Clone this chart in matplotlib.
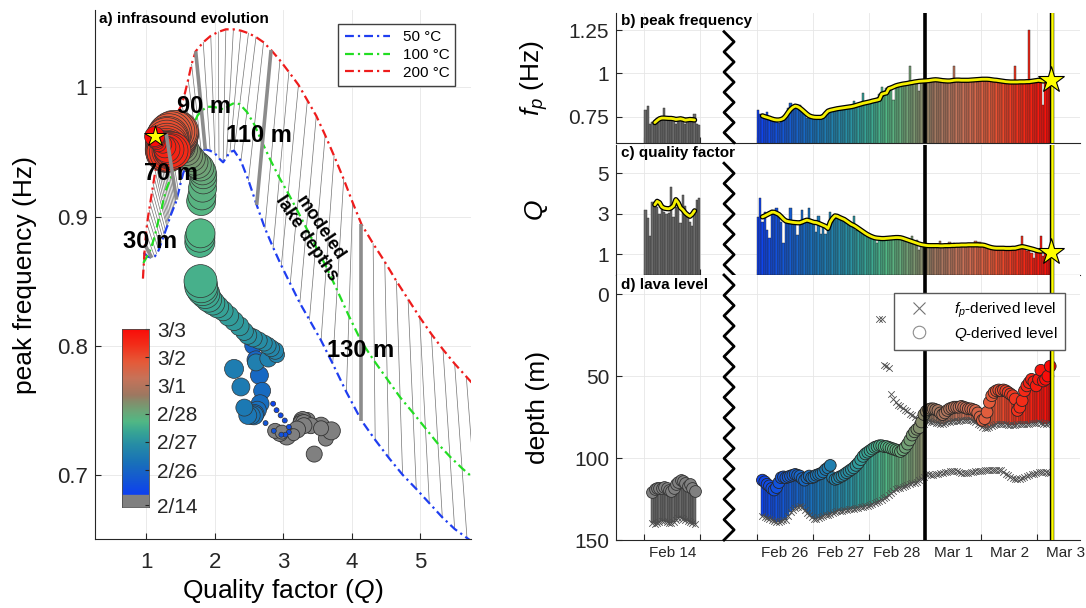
import numpy as np
import matplotlib
matplotlib.use("Agg")
import matplotlib.pyplot as plt
import matplotlib.transforms as mtrans
from matplotlib.colors import LinearSegmentedColormap
from matplotlib.lines import Line2D

plt.rcParams["font.family"] = ["Liberation Sans", "DejaVu Sans"]
plt.rcParams["mathtext.fontset"] = "custom"
plt.rcParams["mathtext.rm"] = "Liberation Sans"
plt.rcParams["mathtext.it"] = "Liberation Sans:italic"
plt.rcParams["axes.edgecolor"] = "0.15"
plt.rcParams["xtick.color"] = "0.15"
plt.rcParams["ytick.color"] = "0.15"

nan = np.nan

# ---------------------------------------------------------------- panel a data
# modelled (Q, fp) for lake depths 26..150 m, every 2 m
depth_m = list(range(26, 151, 2))
label_depths = [30, 70, 90, 110, 130]

red_q = [0.95, 0.965, 0.98, 0.995, 1.01, 1.025, 1.04, 1.055, 1.07, 1.085,
         1.10, 1.115, 1.13, 1.145, 1.16, 1.175, 1.19, 1.205, 1.22, 1.235,
         1.25, 1.27, 1.29, 1.32, 1.36, 1.40, 1.44, 1.48, 1.52, 1.56,
         1.61, 1.66, 1.72, 1.83, 1.94, 2.05, 2.16, 2.27, 2.38, 2.49,
         2.60, 2.71, 2.82, 2.95, 3.08, 3.22, 3.35, 3.48, 3.61, 3.74,
         3.88, 4.01, 4.14, 4.31, 4.48, 4.65, 4.82, 4.99, 5.16, 5.33,
         5.50, 5.67, 5.84]
red_fp = [0.852, 0.866, 0.878, 0.887, 0.894, 0.900, 0.905, 0.910, 0.915, 0.920,
          0.925, 0.930, 0.935, 0.939, 0.943, 0.947, 0.950, 0.953, 0.956, 0.958,
          0.960, 0.962, 0.964, 0.967, 0.971, 0.975, 0.979, 0.983, 0.987, 0.995,
          1.006, 1.018, 1.028, 1.035, 1.040, 1.043, 1.045, 1.045, 1.044, 1.042,
          1.039, 1.035, 1.029, 1.021, 1.012, 1.002, 0.990, 0.978, 0.963, 0.947,
          0.929, 0.911, 0.894, 0.879, 0.865, 0.850, 0.836, 0.822, 0.809, 0.797,
          0.786, 0.776, 0.766]
grn_q = [0.956, 0.998, 1.04, 1.07, 1.094, 1.118, 1.136, 1.154, 1.172, 1.19,
         1.208, 1.226, 1.238, 1.25, 1.262, 1.274, 1.289, 1.304, 1.319, 1.334,
         1.349, 1.366, 1.38, 1.41, 1.444, 1.484, 1.524, 1.564, 1.604, 1.644,
         1.694, 1.744, 1.804, 1.89, 1.976, 2.056, 2.136, 2.21, 2.284, 2.364,
         2.468, 2.578, 2.694, 2.818, 2.942, 3.07, 3.20, 3.336, 3.472, 3.626,
         3.784, 3.956, 4.14, 4.328, 4.516, 4.704, 4.892, 5.074, 5.256, 5.432,
         5.608, 5.784, 5.96]
grn_fp = [0.864, 0.868, 0.872, 0.876, 0.880, 0.884, 0.888, 0.892, 0.896, 0.900,
          0.903, 0.907, 0.910, 0.913, 0.915, 0.918, 0.921, 0.923, 0.925, 0.927,
          0.929, 0.931, 0.933, 0.938, 0.944, 0.950, 0.955, 0.959, 0.962, 0.967,
          0.972, 0.978, 0.982, 0.985, 0.985, 0.984, 0.983, 0.986, 0.988, 0.987,
          0.981, 0.971, 0.957, 0.943, 0.930, 0.918, 0.905, 0.891, 0.877, 0.861,
          0.843, 0.823, 0.803, 0.788, 0.774, 0.760, 0.748, 0.736, 0.724, 0.714,
          0.705, 0.697, 0.688]
blu_q = [0.96, 1.02, 1.08, 1.12, 1.15, 1.18, 1.20, 1.22, 1.24, 1.26,
         1.28, 1.30, 1.31, 1.32, 1.33, 1.34, 1.355, 1.37, 1.385, 1.40,
         1.415, 1.43, 1.44, 1.47, 1.50, 1.54, 1.58, 1.62, 1.66, 1.70,
         1.75, 1.80, 1.86, 1.93, 2.00, 2.06, 2.12, 2.17, 2.22, 2.28,
         2.38, 2.49, 2.61, 2.73, 2.85, 2.97, 3.10, 3.24, 3.38, 3.55,
         3.72, 3.92, 4.14, 4.34, 4.54, 4.74, 4.94, 5.13, 5.32, 5.50,
         5.68, 5.86, 6.04]
blu_fp = [0.872, 0.869, 0.868, 0.869, 0.871, 0.874, 0.877, 0.880, 0.883, 0.886,
          0.889, 0.892, 0.893, 0.895, 0.897, 0.899, 0.901, 0.903, 0.905, 0.907,
          0.909, 0.911, 0.913, 0.919, 0.926, 0.934, 0.939, 0.943, 0.946, 0.948,
          0.950, 0.951, 0.952, 0.951, 0.949, 0.945, 0.942, 0.946, 0.950, 0.951,
          0.943, 0.928, 0.909, 0.891, 0.876, 0.862, 0.848, 0.833, 0.820, 0.804,
          0.786, 0.764, 0.742, 0.727, 0.713, 0.700, 0.689, 0.678, 0.667, 0.658,
          0.651, 0.644, 0.637]

# ---------------------------------------------------------------- hourly series
# Feb 14 (24 hours) and Feb 26 00:00 -> Mar 2 ~06:00 (126 hours)
fp_raw_14 = [0.79, 0.81, 0.71, 0.72, 0.73, 0.74, 0.745, 0.74, 0.80, 0.745,
             0.74, 0.74, 0.735, 0.71, 0.74, 0.745, 0.725, 0.71, 0.74, 0.73,
             0.735, 0.765, 0.705, 0.70]
fp_smooth_14 = [nan, nan, nan, nan, 0.716, 0.728, 0.738, 0.742, 0.742, 0.741,
                0.740, 0.740, 0.738, 0.734, 0.736, 0.738, 0.735, 0.730, 0.732, 0.734,
                0.733, 0.731, nan, nan]
q_raw_14 = [3.2, 2.8, 1.9, 3.6, 3.6, 3.35, 3.0, 3.45, 3.1, 3.0,
            3.05, 4.35, 2.85, 3.35, 3.7, 2.55, 3.95, 3.4, 2.85, 2.6,
            2.4, 3.0, 3.7, 3.8]
q_smooth_14 = [nan, nan, nan, nan, 3.45, 3.62, 3.55, 3.35, 3.28, 3.26,
               3.25, 3.30, 3.40, 3.70, 3.55, 3.30, 3.20, 3.05, 2.95, 2.88,
               2.98, 3.15, nan, nan]
level_q_14 = [nan, nan, nan, 120.5, 119, 118, 118.5, 118, 117.5, 118.5,
              119.5, 120, 118, 116, 114.5, 113.5, 114, 115.5, 117, 116,
              118, 120, nan, nan]
level_fp_14 = [nan, nan, nan, 139.5, 140, 139.5, 139, 138.5, 138.5, 139,
               139.5, 139.5, 139, 137.5, 136.5, 136.5, 137, 138, 138.5, 139,
               139.5, 140, nan, nan]
amp_14 = [nan, nan, nan, nan, 16, 15, 17, 16, 18, 16,
          15, 17, 16, 18, 15, 16, 17, 18, 16, 15,
          14, 12, nan, nan]

fp_raw = [0.790, 0.765, 0.755, 0.745, 0.778, 0.745, 0.735, 0.735, 0.728, 0.715,
          0.735, 0.745, 0.765, 0.800, 0.830, 0.812, 0.820, 0.800, 0.815, 0.775,
          0.770, 0.745, 0.760, 0.748, 0.735, 0.750, 0.748, 0.742, 0.760, 0.770,
          0.785, 0.792, 0.790, 0.795, 0.800, 0.797, 0.802, 0.805, 0.800, 0.810,
          0.812, 0.840, 0.815, 0.822, 0.825, 0.885, 0.832, 0.838, 0.840, 0.845,
          0.850, 0.855, 0.880, 0.920, 0.900, 0.918, 0.915, 0.925, 0.845, 0.930,
          0.935, 0.938, 0.945, 0.940, 0.945, 1.040, 0.948, 0.950, 0.955, 0.900,
          0.958, 0.950, 0.958, 0.962, 0.960, 0.965, 0.968, 0.965, 0.960, 0.955,
          0.958, 0.955, 0.952, 0.960, 1.040, 0.962, 0.960, 0.962, 0.958, 0.960,
          0.962, 0.960, 0.963, 0.965, 0.962, 0.966, 0.968, 0.965, 0.966, 0.964,
          0.960, 0.962, 0.958, 0.955, 0.957, 0.953, 0.950, 0.948, 0.950, 0.948,
          1.040, 0.950, 0.948, 0.952, 0.950, 0.952, 1.250, 0.955, 0.955, 0.958,
          0.960, 0.955, 0.820, 0.950, 0.960, 0.962]
fp_smooth = [nan, nan,
             0.755, 0.750, 0.746, 0.742, 0.737, 0.733, 0.731, 0.731, 0.734, 0.740,
             0.755, 0.775, 0.792, 0.804, 0.811, 0.808, 0.800, 0.789, 0.777, 0.765,
             0.755, 0.750, 0.747, 0.746, 0.746, 0.746, 0.752, 0.768, 0.782, 0.787,
             0.790, 0.793, 0.796, 0.798, 0.800, 0.802, 0.804, 0.806, 0.808, 0.811,
             0.815, 0.819, 0.823, 0.827, 0.830, 0.833, 0.836, 0.840, 0.843, 0.846,
             0.850, 0.880, 0.884, 0.887, 0.912, 0.916, 0.922, 0.928, 0.932, 0.935,
             0.938, 0.940, 0.942, 0.945, 0.947, 0.950, 0.952, 0.954, 0.955, 0.956,
             0.957, 0.958, 0.960, 0.962, 0.963, 0.962, 0.960, 0.958, 0.957, 0.956,
             0.956, 0.958, 0.960, 0.961, 0.961, 0.960, 0.960, 0.960, 0.960, 0.961,
             0.962, 0.963, 0.964, 0.965, 0.966, 0.966, 0.966, 0.965, 0.963, 0.961,
             0.960, 0.958, 0.956, 0.954, 0.952, 0.951, 0.950, 0.950, 0.950, 0.950,
             0.951, 0.951, 0.951, 0.952, 0.952, 0.954, 0.956, 0.958, 0.960, 0.958,
             0.956, 0.958, 0.960, 0.962]
q_raw = [2.86, 3.77, 2.60, 3.10, 2.20, 1.80, 3.20, 3.05, 3.30, 3.00,
         2.60, 1.55, 2.70, 2.55, 3.30, 2.65, 2.50, 1.95, 2.60, 3.20,
         2.60, 2.65, 3.30, 2.55, 2.60, 2.10, 2.90, 2.00, 2.45, 2.00,
         2.30, 3.10, 2.85, 2.80, 2.90, 2.75, 2.70, 2.65, 2.60, 2.50,
         2.40, 2.90, 2.20, 2.25, 2.15, 2.10, 2.02, 1.98, 1.95, 1.90,
         1.86, 1.55, 1.85, 1.86, 1.88, 1.85, 1.86, 1.88, 1.90, 1.88,
         1.92, 1.86, 1.80, 1.75, 1.70, 1.65, 1.92, 1.58, 1.70, 1.21,
         1.46, 1.45, 1.43, 1.42, 1.43, 1.42, 1.43, 1.42, 1.66, 1.42,
         1.43, 1.42, 1.60, 1.44, 1.58, 1.45, 1.44, 1.46, 1.45, 1.46,
         1.47, 1.46, 1.47, 1.66, 1.62, 1.60, 1.46, 1.45, 1.40, 1.36,
         1.33, 1.31, 1.30, 1.28, 1.30, 1.29, 1.30, 1.29, 1.28, 1.30,
         1.31, 1.34, 1.36, 1.92, 1.38, 1.16, 1.30, 1.05, 0.80, 1.20,
         1.15, 1.92, 0.90, 1.15, 1.12, 1.10]
q_smooth = [nan, nan,
            2.85, 2.90, 2.96, 3.02, 3.08, 3.08, 3.03, 2.97, 2.86, 2.74,
            2.65, 2.62, 2.60, 2.58, 2.57, 2.56, 2.56, 2.60, 2.65, 2.69,
            2.66, 2.62, 2.58, 2.57, 2.53, 2.48, 2.43, 2.38, 2.28, 2.60,
            2.78, 2.90, 2.88, 2.82, 2.77, 2.72, 2.64, 2.56, 2.48, 2.43,
            2.36, 2.28, 2.20, 2.12, 2.04, 1.97, 1.91, 1.86, 1.82, 1.80,
            1.79, 1.78, 1.78, 1.79, 1.80, 1.81, 1.82, 1.83, 1.83, 1.82,
            1.79, 1.75, 1.71, 1.67, 1.63, 1.59, 1.55, 1.51, 1.48, 1.46,
            1.44, 1.43, 1.43, 1.43, 1.43, 1.43, 1.42, 1.42, 1.43, 1.43,
            1.43, 1.44, 1.44, 1.45, 1.45, 1.46, 1.46, 1.46, 1.47, 1.47,
            1.47, 1.47, 1.47, 1.46, 1.46, 1.44, 1.40, 1.36, 1.33, 1.31,
            1.30, 1.30, 1.30, 1.30, 1.29, 1.29, 1.29, 1.30, 1.30, 1.33,
            1.36, 1.38, 1.36, 1.33, 1.30, 1.27, 1.24, 1.20, 1.17, 1.16,
            1.18, 1.15, 1.13, 1.12]
# lava level (m below rim): Q-derived, fp-derived (branch used for stems), other fp branch
level_q = [nan, nan,
           113.5, 114.5, 116, 117, 118.5, 119.5, 118, 115, 112, 111.5,
           112, 111.5, 111, 110.5, 110, 110.5, 111, 112.5, 113.5, 112,
           111, 112, 111.5, 110.5, 110, 109.5, 108.5, 107, 106, 104.5,
           112, 113, 112.5, 111.5, 111, 110, 109, 108, 107, 106,
           104.5, 103, 101, 99, 97.5, 96.5, 95.5, 94.5, 93.5, 93,
           92.5, 92.5, 93, 93, 93.5, 94, 94.5, 95, 95.5, 96,
           95, 93.5, 91.5, 89, 86, 84, 82.5, 81.5, 78, 73.5,
           71.5, 70.5, 70, 70, 70.5, 71, 72.5, 73.5, 72.5, 71,
           70, 69.5, 69, 69, 69, 68.5, 69, 69.5, 70, 70,
           70.5, 71, 72.5, 75, 77, 76, 72, 66, 62, 60,
           59, 58.5, 59, 58.5, 59, 60, 61, 62, 64, 71,
           69, 65, 59, 56, 54, 52, 53.5, 56, 52, 46.5,
           53, 52, 50, 44]
level_fp = [nan, nan,
            135.5, 136, 136.5, 137, 138, 138.5, 139, 139, 138.5, 138,
            137.5, 135.5, 133, 131.5, 130.5, 130, 129.5, 130, 131.5, 133.5,
            135, 136, 137, 137, 136.5, 136, 135.5, 135, 134.5, 134,
            133.5, 133, 132.5, 132, 132, 131.5, 131.5, 131, 131, 131,
            130.5, 130.5, 130, 130, 129.5, 129, 128.5, 128, 127.5, 127,
            126.5, 125.5, 124.5, 123.5, 122.5, 121.5, 120, 119, 118.5, 118,
            117.5, 117, 116.5, 116, 115.5, 115, 114.5, 113.5, 112.5, 111.5,
            77, 77.5, 78, 78, 78.5, 78.5, 79, 79, 78.5, 78,
            78, 77.5, 77.5, 77.5, 77.5, 77, 77, 77, 77, 77,
            77.5, 78, 79, 80, 81, 81.5, 81.5, 81, 80.5, 80,
            79.5, 79, 79, 79, 79.5, 80, 80, 80, 80, 79.5,
            79.5, 79, 79, 79, 79, 78.5, 78.5, 78.5, 78, 78.5,
            79, 79, 78.5, 78.5]
level_fp_alt = [nan] * 52 + [
    15, 15, 43, 44, 45, 61, 64, 66, 67.5, 68.5,
    69.5, 70.5, 71.5, 73, 74, 75, 76, 77, 78, 79,
    109.5, 110, 110.5, 110.5, 110, 109.5, 109, 109, 108.5, 108.5,
    108, 108, 108, 108, 108.5, 109, 109, 109, 109, 108.5,
    108.5, 108, 108, 108, 108, 107.5, 107.5, 107.5, 107, 107,
    107, 107, 107.5, 108.5, 109.5, 110.5, 111.5, 112, 112.5, 112.5,
    112.5, 112, 111.5, 111, 110.5, 110, 109.5, 109, 108.5, 108.5,
    108.5, 108.5, 109, 109]
amp = [nan, nan,
       5, 5, 5, 5, 5, 5, 5, 5, 5, 5,
       6, 6, 5, 5, 5, 6, 17, 18, 18, 17,
       18, 18, 19, 19, 18, 18, 17, 18, 19, 17,
       17, 16, 17, 17, 17, 16, 17, 18, 18, 18,
       19, 19, 20, 20, 22, 24, 26, 29, 31, 33,
       33, 30, 30, 29, 29, 28, 28, 27, 27, 27,
       27, 27, 26, 26, 26, 27, 27, 28, 28, 30,
       32, 33, 34, 34, 35, 35, 36, 36, 36, 37,
       37, 37, 37, 38, 38, 38, 38, 38, 38, 38,
       39, 39, 40, 40, 41, 41, 42, 42, 43, 43,
       43, 43, 42, 42, 42, 41, 41, 40, 40, 39,
       38, 37, 34, 30, 26, 22, 18, 15, 14, 14,
       15, 16, 18, 20]

for series in (fp_raw, fp_smooth, q_raw, q_smooth, level_q, level_fp, level_fp_alt, amp):
    assert len(series) == 126, len(series)

# time axis: compressed, one unit per day; Feb 14 in slot 0, Feb 26.. from slot 2
tick_dates = ["Feb 14", "Feb 26", "Feb 27", "Feb 28", "Mar 1", "Mar 2", "Mar 3"]
date_slot = [0, 2, 3, 4, 5, 6, 7]
mar1_slot = 5.0
last_obs = 7.255

cbar_labels = ["2/14", "2/26", "2/27", "2/28", "3/1", "3/2", "3/3"]

cmap_pos = [0.0, 0.10, 0.20, 0.30, 0.38, 0.44, 0.50, 0.56, 0.60, 0.70, 0.80, 0.90, 1.0]
cmap_rgb = [(0.05, 0.25, 0.95), (0.08, 0.35, 0.82), (0.10, 0.45, 0.72), (0.15, 0.55, 0.65),
            (0.22, 0.65, 0.58), (0.32, 0.72, 0.52), (0.42, 0.65, 0.47), (0.52, 0.55, 0.42),
            (0.62, 0.47, 0.38), (0.78, 0.45, 0.35), (0.90, 0.35, 0.22), (0.95, 0.18, 0.10),
            (0.98, 0.04, 0.03)]
cmap = LinearSegmentedColormap.from_list("lake", list(zip(cmap_pos, cmap_rgb)))

# ---------------------------------------------------------------- derived arrays
hours_14 = np.arange(24)
hours = np.arange(126)
x14 = (hours_14 + 0.5) / 24.0
xm = 2 + (hours + 0.5) / 24.0
col_main = cmap(hours / 125.0)
GRAY = "0.42"

fp_raw, fp_smooth, q_raw, q_smooth = map(np.array, (fp_raw, fp_smooth, q_raw, q_smooth))
level_q, level_fp, level_fp_alt, amp = map(np.array, (level_q, level_fp, level_fp_alt, amp))
fp_raw_14, fp_smooth_14, q_raw_14, q_smooth_14 = map(np.array, (fp_raw_14, fp_smooth_14, q_raw_14, q_smooth_14))
level_q_14, level_fp_14, amp_14 = map(np.array, (level_q_14, level_fp_14, amp_14))

fig = plt.figure(figsize=(10.86, 6.08), dpi=100)
DASH = (4, 1.8, 1, 1.8)

# ================================================================ panel a
ax = fig.add_axes([0.0871, 0.1130, 0.3470, 0.8706])
for k, d in enumerate(depth_m):
    if d in label_depths:
        ax.plot([red_q[k], blu_q[k]], [red_fp[k], blu_fp[k]], color="0.55", lw=2.6,
                zorder=4, solid_capstyle="butt")
    else:
        ax.plot([red_q[k], blu_q[k]], [red_fp[k], blu_fp[k]], color="0.45", lw=0.5, zorder=1)
ax.plot(blu_q, blu_fp, color="#1f3ef0", lw=1.6, dashes=DASH, label="50 °C", zorder=2)
ax.plot(grn_q, grn_fp, color="#22dd22", lw=1.6, dashes=DASH, label="100 °C", zorder=2)
ax.plot(red_q, red_fp, color="#ee1c1c", lw=1.6, dashes=DASH, label="200 °C", zorder=2)

ok14 = ~np.isnan(q_smooth_14)
ax.scatter(q_smooth_14[ok14], fp_smooth_14[ok14], s=(amp_14[ok14] * 0.72) ** 2,
           color="0.5", edgecolors="0.2", linewidths=0.6, zorder=3)
ok = ~np.isnan(q_smooth)
ax.scatter(q_smooth[ok], fp_smooth[ok], s=(amp[ok] * 0.72) ** 2, color=col_main[ok],
           edgecolors="0.2", linewidths=0.5, zorder=3)
ax.plot(q_smooth[-1], fp_smooth[-1], marker="*", ms=16, mfc="#ffff00", mec="k", mew=0.7, zorder=6)

lbl = dict(fontsize=17, fontweight="bold", ha="center", va="center", zorder=7)
ax.text(1.05, 0.881, "30 m", **lbl)
ax.text(1.365, 0.933, "70 m", **lbl)
ax.text(1.835, 0.985, "90 m", **lbl)
ax.text(2.64, 0.963, "110 m", **lbl)
ax.text(4.13, 0.796, "130 m", **lbl)
ax.text(3.44, 0.887, "modeled\nlake depths", fontsize=13, fontweight="bold", rotation=-56,
        ha="center", va="center", linespacing=1.0, zorder=7)
ax.text(0.012, 0.996, "a) infrasound evolution", transform=ax.transAxes, fontsize=11,
        fontweight="bold", va="top", ha="left")

ax.set_xlim(0.244, 5.745)
ax.set_ylim(0.650, 1.060)
ax.set_xticks([1, 2, 3, 4, 5])
ax.set_yticks([0.7, 0.8, 0.9, 1.0])
ax.set_yticklabels(["0.7", "0.8", "0.9", "1"])
ax.tick_params(direction="in", length=4, labelsize=16, top=False, right=False)
ax.tick_params(axis="x", pad=9)
ax.tick_params(axis="y", pad=5)
ax.grid(True, color="0.9", lw=0.6)
ax.set_axisbelow(True)
for s in ("top", "right"):
    ax.spines[s].set_visible(False)
ax.set_xlabel("Quality factor ($Q$)", fontsize=19)
ax.set_ylabel("peak frequency (Hz)", fontsize=19)
ax.xaxis.set_label_coords(0.5, -0.072)
ax.yaxis.set_label_coords(-0.152, 0.5)
ax.legend(loc="upper right", bbox_to_anchor=(0.9575, 0.9735), fontsize=11, handlelength=3.0,
          fancybox=False, edgecolor="0.25", framealpha=1, borderpad=0.4, labelspacing=0.25,
          borderaxespad=0)

# colour bar (inset)
cax = fig.add_axes([122 / 1086, 1 - 507 / 608, 27 / 1086, 178 / 608])
grad = np.linspace(0, 1, 256).reshape(-1, 1)
cax.imshow(grad, cmap=cmap, origin="lower", aspect="auto", extent=[0, 1, -0.887, 5])
cax.axhspan(-1.31, -0.887, color="0.5")
cax.set_xlim(0, 1)
cax.set_ylim(-1.31, 5)
cax.set_xticks([])
cax.yaxis.tick_right()
cax.set_yticks([-1.24, 0, 1, 2, 3, 4, 5])
cax.set_yticklabels(cbar_labels)
cax.tick_params(axis="y", direction="in", length=3, labelsize=15, pad=6)
for s in cax.spines.values():
    s.set_color("0.3")
    s.set_linewidth(0.6)

# ================================================================ panels b-d
ax_b = fig.add_axes([0.5672, 0.7653, 0.4273, 0.2133])
ax_c = fig.add_axes([0.5672, 0.5477, 0.4273, 0.2138])
ax_d = fig.add_axes([0.5672, 0.1118, 0.4273, 0.4359])
W = 1 / 24.0


def time_axis(a, labels):
    a.set_xlim(-0.504, 7.76)
    a.set_xticks(range(8))
    a.set_xticks([p + 0.5 for p in date_slot], minor=True)
    a.set_xticklabels([])
    a.set_xticklabels(tick_dates if labels else [""] * len(tick_dates), minor=True)
    a.tick_params(axis="x", which="major", direction="in", length=4, labelbottom=False)
    a.tick_params(axis="x", which="minor", length=0, labelsize=11, pad=4)
    a.tick_params(axis="y", direction="in", length=4, labelsize=15, pad=5, right=False)
    a.grid(True, which="major", color="0.9", lw=0.6)
    a.set_axisbelow(True)
    for s in ("top", "right"):
        a.spines[s].set_visible(False)
    a.yaxis.set_label_coords(-0.142, 0.5)


def zigzag(a, y_top, h_px):
    tr = mtrans.blended_transform_factory(a.transData, a.transAxes)
    n = int(round(y_top * h_px / 10.0))
    ys = np.linspace(y_top, 0, n + 1)
    xs = [1.42 if k % 2 == 0 else 1.60 for k in range(n + 1)]
    a.plot(xs, ys, transform=tr, color="k", lw=2, clip_on=False, zorder=5)


def event_lines(a):
    a.axvline(mar1_slot, color="k", lw=2.6, zorder=4)
    a.axvline(last_obs, color="k", lw=3.2, zorder=4)
    a.axvline(last_obs, color="#ffff00", lw=1.8, zorder=4)


def smooth_line(a, x, y):
    a.plot(x, y, color="k", lw=3.8, zorder=5, solid_capstyle="round")
    a.plot(x, y, color="#f5f000", lw=2.0, zorder=5, solid_capstyle="round")


# b) peak frequency
ax_b.bar(x14, fp_raw_14, width=W, color=GRAY, edgecolor="0.15", linewidth=0.3)
ax_b.bar(xm, fp_raw, width=W, color=col_main, edgecolor="0.15", linewidth=0.3)
smooth_line(ax_b, x14, fp_smooth_14)
smooth_line(ax_b, xm, fp_smooth)
event_lines(ax_b)
ax_b.plot(xm[-1] + 0.01, fp_smooth[-1], marker="*", ms=20, mfc="#ffff00", mec="k", mew=0.8, zorder=6)
ax_b.set_ylim(0.60, 1.348)
ax_b.set_yticks([0.75, 1.0, 1.25])
ax_b.set_yticklabels(["0.75", "1", "1.25"])
time_axis(ax_b, False)
zigzag(ax_b, 0.856, 129.7)
ax_b.set_ylabel("$f_p$ (Hz)", fontsize=19)
ax_b.text(0.01, 0.99, "b) peak frequency", transform=ax_b.transAxes, fontsize=11,
          fontweight="bold", va="top")

# c) quality factor
ax_c.bar(x14, q_raw_14, width=W, color=GRAY, edgecolor="0.15", linewidth=0.3)
ax_c.bar(xm, q_raw, width=W, color=col_main, edgecolor="0.15", linewidth=0.3)
smooth_line(ax_c, x14, q_smooth_14)
smooth_line(ax_c, xm, q_smooth)
event_lines(ax_c)
ax_c.plot(xm[-1] + 0.01, q_smooth[-1], marker="*", ms=20, mfc="#ffff00", mec="k", mew=0.8, zorder=6)
ax_c.set_ylim(-0.02, 6.4)
ax_c.set_yticks([1, 3, 5])
time_axis(ax_c, False)
zigzag(ax_c, 0.86, 130)
ax_c.set_ylabel("$Q$", fontsize=19)
ax_c.text(0.01, 0.99, "c) quality factor", transform=ax_c.transAxes, fontsize=11,
          fontweight="bold", va="top")

# d) lava level
v14 = ~np.isnan(level_q_14)
ax_d.bar(x14[v14], level_fp_14[v14] - level_q_14[v14], bottom=level_q_14[v14], width=W,
         color=GRAY, edgecolor="0.15", linewidth=0.3, zorder=2)
vm = ~np.isnan(level_q)
ax_d.bar(xm[vm], level_fp[vm] - level_q[vm], bottom=level_q[vm], width=W,
         color=col_main[vm], edgecolor="0.15", linewidth=0.3, zorder=2)
ax_d.scatter(x14[v14], level_fp_14[v14], marker="x", s=22, color="0.3", linewidths=0.6, zorder=3)
ax_d.scatter(xm[vm], level_fp[vm], marker="x", s=22, color="0.3", linewidths=0.6, zorder=3)
va = ~np.isnan(level_fp_alt)
ax_d.scatter(xm[va], level_fp_alt[va], marker="x", s=22, color="0.3", linewidths=0.6, zorder=3)
ax_d.scatter(x14[v14], level_q_14[v14], s=72, color="0.5", edgecolors="0.2", linewidths=0.6, zorder=4)
ax_d.scatter(xm[vm], level_q[vm], s=72, color=col_main[vm], edgecolors="0.15", linewidths=0.6, zorder=4)
event_lines(ax_d)
ax_d.set_ylim(150, -11.6)
ax_d.set_yticks([0, 50, 100, 150])
time_axis(ax_d, True)
zigzag(ax_d, 1.0, 265)
ax_d.set_ylabel("depth (m)", fontsize=19)
ax_d.text(0.01, 0.99, "d) lava level", transform=ax_d.transAxes, fontsize=11,
          fontweight="bold", va="top")
handles = [Line2D([], [], ls="", marker="x", color="0.45", ms=8, mew=0.8),
           Line2D([], [], ls="", marker="o", mfc="none", mec="0.55", ms=9, mew=0.8)]
leg = ax_d.legend(handles, ["$f_p$-derived level", "$Q$-derived level"], loc="upper right",
                  bbox_to_anchor=(0.968, 0.932), fontsize=11, fancybox=False, edgecolor="0.35",
                  framealpha=1, handlelength=2.2, handletextpad=1.2, borderpad=0.5,
                  borderaxespad=0, labelspacing=0.3)
leg.set_zorder(8)

fig.savefig("out.png", dpi=100)
